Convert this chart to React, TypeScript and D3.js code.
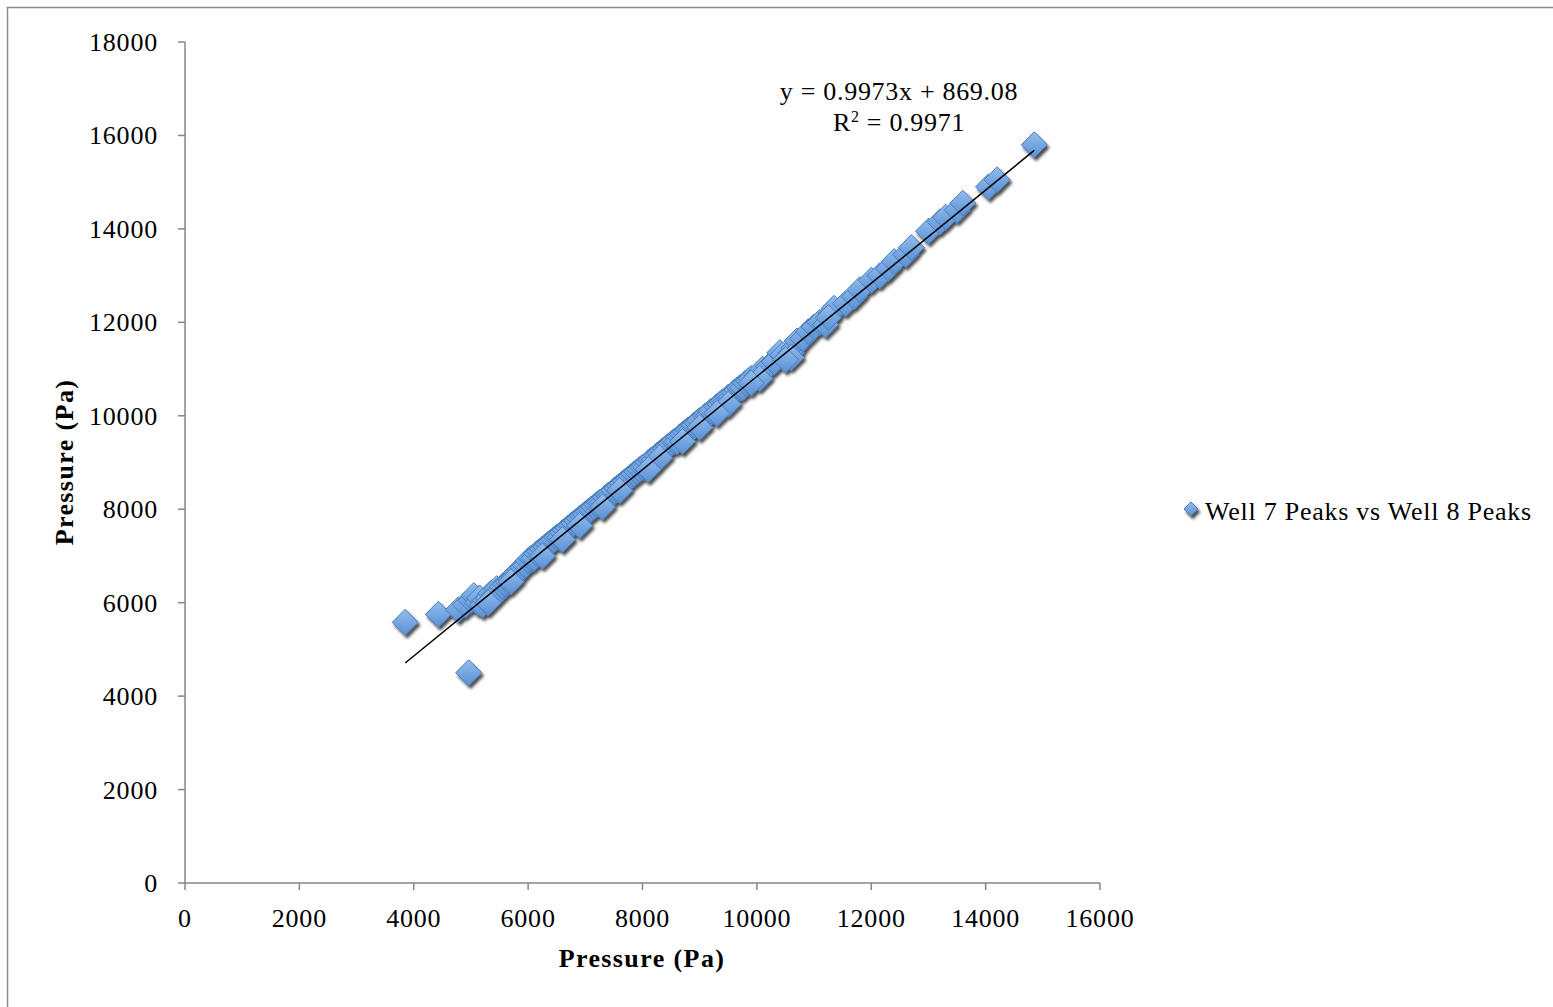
import React from "react";
import * as d3 from "d3";

const xTicks = [0, 2000, 4000, 6000, 8000, 10000, 12000, 14000, 16000];
const yTicks = [0, 2000, 4000, 6000, 8000, 10000, 12000, 14000, 16000, 18000];

const slope = 0.9973;
const intercept = 869.08;
const r2 = 0.9971;

const seriesName = "Well 7 Peaks vs Well 8 Peaks";
const axisTitle = "Pressure (Pa)";

const well7: number[] = [
  3850, 4430, 4960, 4780, 4900, 5000, 5050, 5120, 5150, 5200, 5250, 5300, 5350, 5400, 5450, 5500, 5550, 5600, 5650, 5700,
  5750, 5800, 5850, 5900, 5950, 6000, 6050, 6100, 6150, 6200, 6250, 6300, 6350, 6400, 6450, 6500, 6550, 6600, 6650, 6700,
  6750, 6800, 6850, 6900, 6950, 7000, 7050, 7100, 7150, 7200, 7250, 7300, 7350, 7400, 7450, 7500, 7550, 7600, 7650, 7700,
  7750, 7800, 7850, 7900, 7950, 8000, 8050, 8100, 8150, 8200, 8250, 8300, 8350, 8400, 8450, 8500, 8550, 8600, 8650, 8700,
  8750, 8800, 8850, 8900, 8950, 9000, 9100, 9150, 9200, 9300, 9350, 9400, 9450, 9500, 9550, 9600, 9650, 9700, 9750, 9800,
  9850, 9900, 10000, 10050, 10100, 10200, 10300, 10400, 10450, 10600, 10650, 10700, 10800, 10900, 11000, 11100, 11200, 11300, 11350, 11550,
  11700, 11800, 12000, 12150, 12300, 12400, 12600, 12700, 13000, 13200, 13300, 13500, 13600, 14050, 14200, 14850,
  6250, 6900, 7600, 8300, 9000, 9500, 10050, 10600, 5300, 5700, 6600, 7300, 8100, 8700, 9300, 9900, 10500, 11250,
];
const well8: number[] = [
  5580, 5750, 4500, 5850, 5950, 6050, 6150, 6000, 6100, 5950, 6050, 6100, 6200, 6150, 6300, 6250, 6350, 6400, 6450, 6500,
  6550, 6650, 6700, 6750, 6800, 6900, 6950, 6950, 7050, 7100, 7150, 7200, 7250, 7300, 7350, 7400, 7400, 7500, 7550, 7600,
  7650, 7700, 7750, 7800, 7850, 7900, 7950, 8000, 8050, 8100, 8150, 8150, 8250, 8300, 8300, 8400, 8450, 8500, 8550, 8600,
  8650, 8700, 8750, 8800, 8850, 8900, 8900, 9000, 9050, 9050, 9150, 9200, 9250, 9300, 9350, 9400, 9450, 9450, 9550, 9600,
  9650, 9700, 9700, 9800, 9850, 9900, 10000, 10000, 10100, 10200, 10250, 10300, 10300, 10400, 10400, 10500, 10550, 10600, 10600, 10700,
  10750, 10800, 10850, 10900, 11000, 11050, 11150, 11350, 11300, 11350, 11450, 11600, 11650, 11800, 11900, 12000, 11950, 12200, 12300, 12400,
  12550, 12700, 12900, 13000, 13150, 13300, 13450, 13600, 13950, 14150, 14250, 14400, 14550, 14900, 15050, 15800,
  7000, 7650, 8400, 9100, 9750, 10250, 10800, 11250, 6000, 6450, 7350, 8050, 8850, 9450, 10050, 10700, 11200, 12100,
];

const W = 1553;
const H = 1007;
const X0 = 185, X1 = 1100, Y0 = 883, Y1 = 42;
const axisColor = "#868686";
const font = "'Liberation Serif', 'Times New Roman', serif";

export default function App() {
  const x = d3.scaleLinear().domain([0, 16000]).range([X0, X1]);
  const y = d3.scaleLinear().domain([0, 18000]).range([Y0, Y1]);
  const pts = well7.map((v, i) => ({ x: v, y: well8[i] }));
  const [xmin, xmax] = d3.extent(well7.slice(0, 146)) as [number, number];
  const diamond = (cx: number, cy: number, r: number) =>
    `M${cx},${cy - r}L${cx + r},${cy}L${cx},${cy + r}L${cx - r},${cy}Z`;
  const R = 13;

  return (
    <svg width={W} height={H} style={{ position: "absolute", left: 0, top: 0, background: "#fff" }}>
      <defs>
        <linearGradient id="mk" x1="0" y1="0" x2="0" y2="1">
          <stop offset="0" stopColor="#93bdee" />
          <stop offset="1" stopColor="#5a90d4" />
        </linearGradient>
        <filter id="sh" x="-50%" y="-50%" width="200%" height="200%">
          <feDropShadow dx="2" dy="3" stdDeviation="1.8" floodColor="#000" floodOpacity="0.7" />
        </filter>
      </defs>
      <rect x={7.5} y={7.5} width={W + 20} height={H + 20} fill="none" stroke="#8c8c8c" strokeWidth={1.5} />

      {/* axes */}
      <line x1={X0} x2={X0} y1={Y1} y2={Y0} stroke={axisColor} strokeWidth={1.5} />
      <line x1={X0} x2={X1} y1={Y0} y2={Y0} stroke={axisColor} strokeWidth={1.5} />
      {yTicks.map((t) => (
        <g key={"y" + t}>
          <line x1={X0 - 7} x2={X0} y1={y(t)} y2={y(t)} stroke={axisColor} strokeWidth={1.5} />
          <text x={158} y={y(t) + 9} textAnchor="end" fontFamily={font} fontSize={26} fill="#000" letterSpacing={0.8}>
            {t}
          </text>
        </g>
      ))}
      {xTicks.map((t) => (
        <g key={"x" + t}>
          <line x1={x(t)} x2={x(t)} y1={Y0} y2={Y0 + 7} stroke={axisColor} strokeWidth={1.5} />
          <text x={x(t)} y={927} textAnchor="middle" fontFamily={font} fontSize={26} fill="#000" letterSpacing={0.8}>
            {t}
          </text>
        </g>
      ))}

      {/* points */}
      <g filter="url(#sh)">
        {pts.map((p, i) => (
          <path key={i} d={diamond(x(p.x), y(p.y), R)} fill="url(#mk)" stroke="#4a7ebb" strokeWidth={1} />
        ))}
      </g>

      {/* trendline */}
      <line
        x1={x(xmin)}
        y1={y(slope * xmin + intercept)}
        x2={x(xmax)}
        y2={y(slope * xmax + intercept)}
        stroke="#000"
        strokeWidth={1.5}
      />

      {/* equation */}
      <text x={899} y={100} textAnchor="middle" fontFamily={font} fontSize={26} fill="#000" letterSpacing={0.7}>
        {`y = ${slope}x + ${intercept.toFixed(2)}`}
      </text>
      <text x={899} y={131} textAnchor="middle" fontFamily={font} fontSize={26} fill="#000" letterSpacing={0.7}>
        R<tspan dy={-9} fontSize={16}>2</tspan>
        <tspan dy={9}>{` = ${r2}`}</tspan>
      </text>

      {/* axis titles */}
      <text x={642} y={967} textAnchor="middle" fontFamily={font} fontSize={26} fontWeight="bold" fill="#000" letterSpacing={1.4}>
        {axisTitle}
      </text>
      <text
        transform={`translate(73,462) rotate(-90)`}
        textAnchor="middle"
        fontFamily={font}
        fontSize={26}
        fontWeight="bold"
        fill="#000"
        letterSpacing={1.4}
      >
        {axisTitle}
      </text>

      {/* legend */}
      <path d={diamond(1191, 509, 7)} fill="url(#mk)" stroke="#4a7ebb" strokeWidth={1} filter="url(#sh)" />
      <text x={1205} y={520} fontFamily={font} fontSize={26} fill="#000" letterSpacing={0.75}>
        {seriesName}
      </text>
    </svg>
  );
}
